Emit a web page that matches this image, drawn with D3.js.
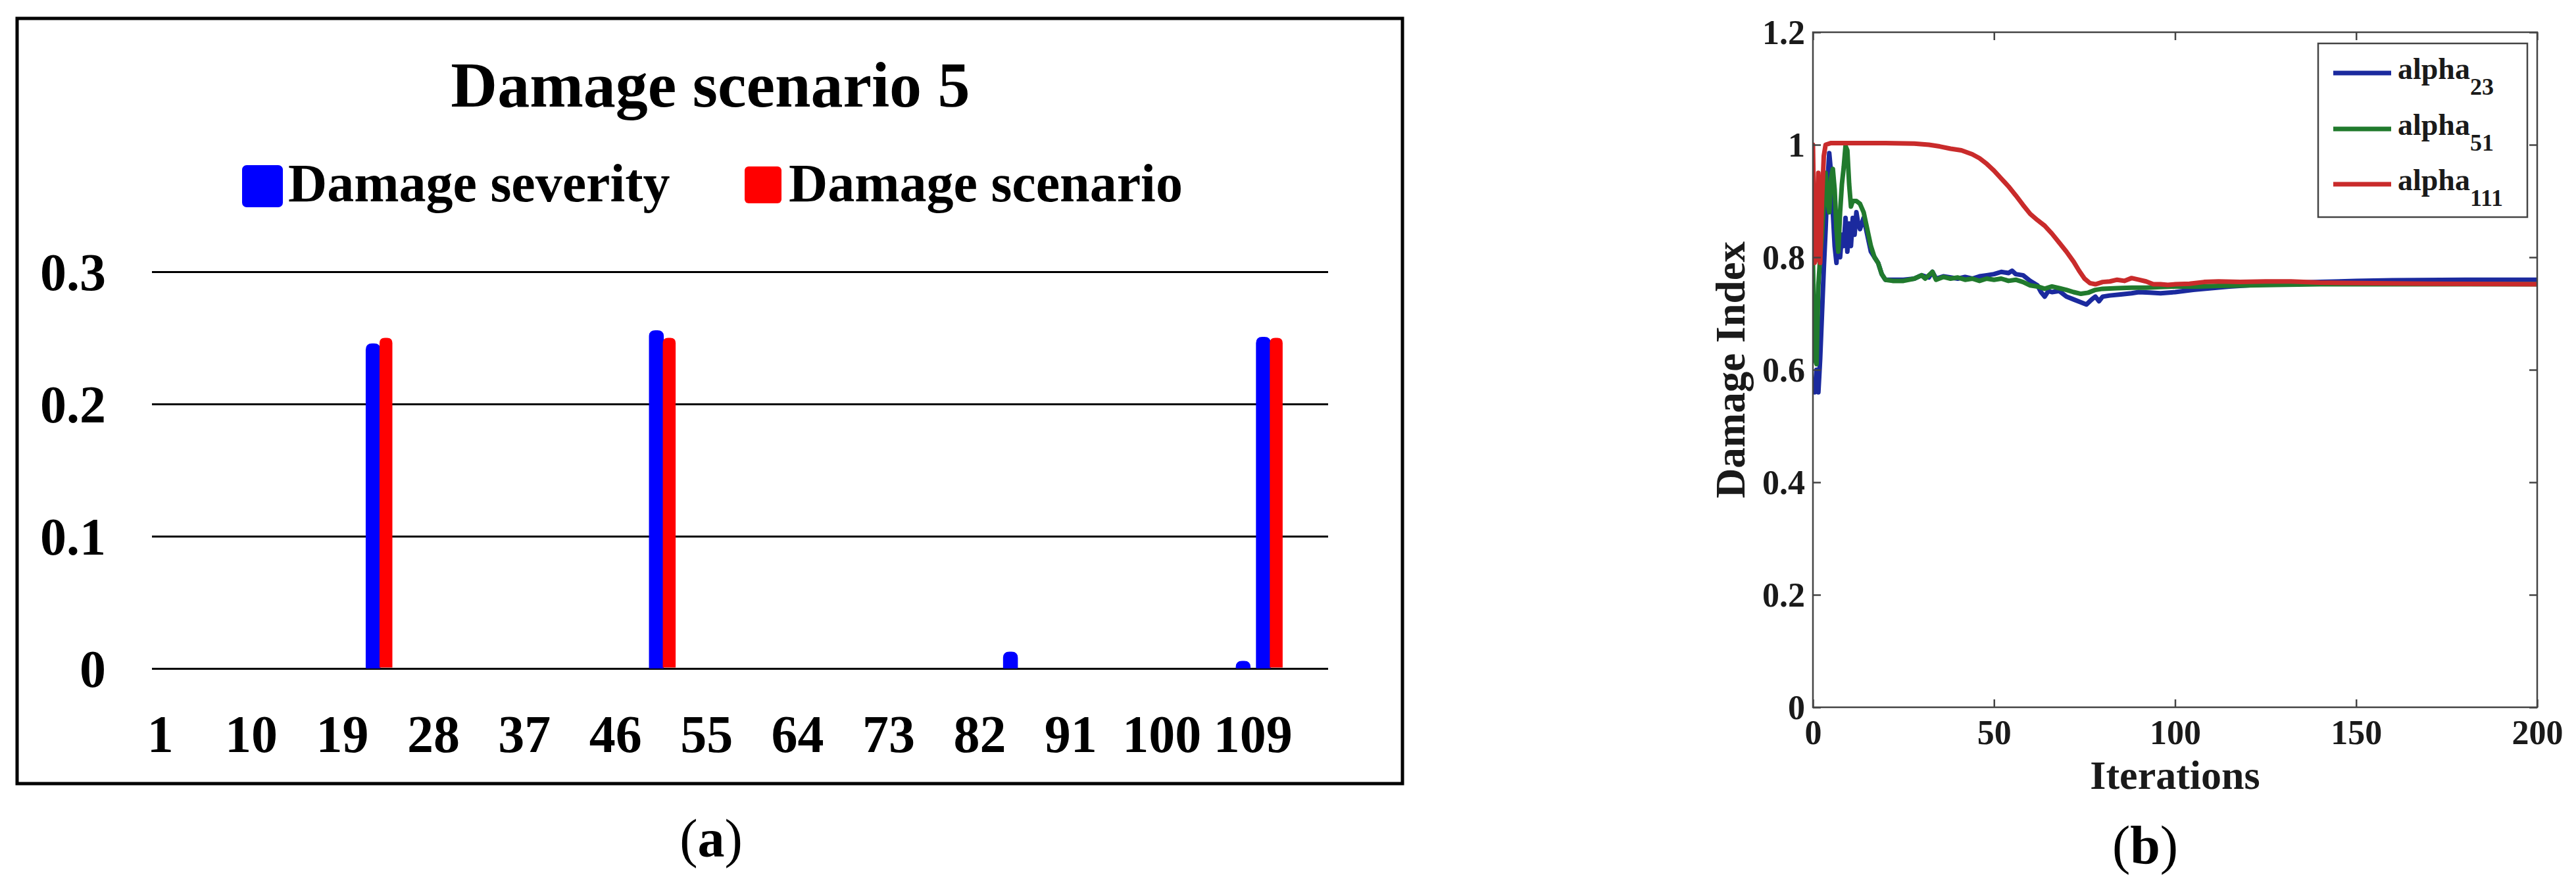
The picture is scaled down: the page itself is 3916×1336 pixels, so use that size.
<!DOCTYPE html>
<html>
<head>
<meta charset="utf-8">
<script src="https://cdn.jsdelivr.net/npm/d3@7"></script>
<style>
html,body{margin:0;padding:0;background:#fff;}
svg{display:block;}
</style>
</head>
<body>
<script>
// ---------------- DATA ----------------
// Panel (a): Damage scenario 5
const elementCount = 116;
const elements = d3.range(1, elementCount + 1);
const xTickLabels = [1, 10, 19, 28, 37, 46, 55, 64, 73, 82, 91, 100, 109];
const yTicksA = [0, 0.1, 0.2, 0.3];
const severity = [[23, 0.245], [51, 0.255], [86, 0.012], [109, 0.005], [111, 0.25]];
const scenario = [[23, 0.25], [51, 0.25], [111, 0.25]];
const legendA = ["Damage severity", "Damage scenario"];

// Panel (b): Damage index vs iterations
const xTicksB = [0, 50, 100, 150, 200];
const yTicksB = [0, 0.2, 0.4, 0.6, 0.8, 1, 1.2];
const alpha23 = [[0,0.58],[0.5,0.56],[1,0.6],[1.5,0.56],[2,0.62],[2.5,0.7],[3,0.78],[3.5,0.85],[4,0.93],[4.5,0.985],[5,0.95],[5.5,0.88],[6,0.82],[6.5,0.79],[7,0.86],[7.5,0.8],[8,0.84],[8.5,0.82],[9,0.87],[9.5,0.81],[10,0.86],[10.5,0.82],[11,0.87],[11.5,0.84],[12,0.88],[12.5,0.86],[13,0.85],[14,0.87],[15,0.84],[16,0.81],[17,0.8],[18,0.79],[19,0.77],[20,0.76],[22,0.76],[25,0.76],[28,0.762],[30,0.768],[32,0.764],[33,0.774],[34,0.762],[36,0.766],[38,0.764],[40,0.762],[42,0.765],[44,0.762],[46,0.766],[48,0.768],[50,0.77],[52,0.774],[54,0.772],[55,0.776],[56,0.77],[58,0.768],[60,0.758],[62,0.75],[63,0.738],[64,0.73],[65,0.74],[66,0.738],[68,0.74],[70,0.73],[72,0.725],[74,0.72],[75.5,0.716],[77,0.725],[78,0.73],[79,0.722],[80,0.73],[82,0.732],[85,0.734],[88,0.736],[90,0.738],[93,0.737],[96,0.736],[100,0.738],[105,0.742],[110,0.745],[115,0.748],[120,0.75],[125,0.752],[130,0.754],[140,0.756],[150,0.758],[160,0.759],[180,0.76],[200,0.76]];
const alpha51 = [[0,0.79],[0.5,0.62],[1,0.61],[1.5,0.75],[2,0.8],[2.5,0.84],[3,0.9],[3.5,0.95],[4,0.9],[4.5,0.88],[5,0.94],[5.5,0.957],[6,0.92],[6.5,0.85],[7,0.81],[7.5,0.88],[8,0.93],[8.5,0.96],[9,0.998],[9.5,0.99],[10,0.93],[10.5,0.89],[11,0.9],[12,0.9],[13,0.895],[14,0.88],[15,0.85],[16,0.82],[17,0.8],[18,0.79],[19,0.77],[20,0.76],[22,0.758],[25,0.758],[28,0.762],[30,0.768],[31,0.762],[33,0.774],[34,0.76],[36,0.765],[38,0.762],[40,0.764],[42,0.76],[44,0.762],[46,0.758],[48,0.762],[50,0.76],[52,0.762],[54,0.758],[56,0.76],[58,0.756],[60,0.75],[62,0.748],[64,0.744],[66,0.748],[68,0.745],[70,0.742],[72,0.738],[74,0.735],[76,0.737],[78,0.742],[80,0.744],[84,0.745],[88,0.746],[92,0.746],[96,0.747],[100,0.748],[106,0.748],[112,0.749],[120,0.75],[128,0.751],[140,0.752],[160,0.752],[200,0.752]];
const alpha111 = [[0,1.0],[0.5,0.79],[1,0.8],[1.5,0.95],[2,0.79],[2.5,0.9],[3,0.98],[3.5,1.0],[5,1.003],[10,1.003],[20,1.003],[28,1.002],[32,1.0],[35,0.997],[38,0.993],[41,0.99],[44,0.983],[46,0.976],[48,0.966],[50,0.954],[52,0.94],[54,0.926],[56,0.91],[58,0.893],[60,0.877],[62,0.866],[64,0.856],[66,0.842],[68,0.826],[70,0.81],[72,0.792],[73.5,0.776],[75,0.762],[76.5,0.754],[78,0.752],[80,0.756],[82,0.757],[84,0.76],[86,0.758],[88,0.763],[90,0.76],[92,0.757],[94,0.752],[96,0.752],[98,0.751],[100,0.752],[104,0.753],[108,0.756],[112,0.757],[118,0.756],[125,0.757],[132,0.757],[140,0.755],[150,0.754],[170,0.753],[200,0.752]];
const seriesNamesB = ["alpha", "alpha", "alpha"];
const seriesSubsB = ["23", "51", "111"];

// ---------------- DRAWING ----------------
const W = 3916, H = 1336;
const FONT = "'Liberation Serif','Times New Roman',Times,serif";
const svg = d3.select("body").append("svg").attr("width", W).attr("height", H)
  .style("font-family", FONT);
svg.append("rect").attr("width", W).attr("height", H).attr("fill", "#fff");

// ===== Panel (a) =====
const gA = svg.append("g");
gA.append("rect").attr("x", 26).attr("y", 28).attr("width", 2106).attr("height", 1163)
  .attr("fill", "none").attr("stroke", "#000").attr("stroke-width", 5);

const xA = d3.scaleBand().domain(elements).range([236, 2020]).padding(0);
const yA = d3.scaleLinear().domain([0, 0.3]).range([1016, 413]);

// gridlines + y labels
const yAxisA = gA.append("g").attr("transform", "translate(231,0)")
  .call(d3.axisLeft(yA).tickValues(yTicksA).tickSize(-(2019 - 231)).tickPadding(70)
    .tickFormat(d => d === 0 ? "0" : d.toFixed(1)));
yAxisA.select(".domain").remove();
yAxisA.selectAll(".tick line").attr("stroke", "#000").attr("stroke-width", 3.2);
yAxisA.selectAll(".tick text").attr("font-size", 80).attr("font-weight", "bold")
  .attr("font-family", FONT).attr("fill", "#000").attr("dy", "0.34em");

// x labels
const xAxisA = gA.append("g").attr("transform", "translate(0,1016)")
  .call(d3.axisBottom(xA).tickValues(xTickLabels).tickSize(0).tickPadding(70));
xAxisA.select(".domain").remove();
xAxisA.selectAll(".tick text").attr("font-size", 80).attr("font-weight", "bold")
  .attr("font-family", FONT).attr("fill", "#000");

function barPath(x0, w, yTop, yBase, r) {
  r = Math.max(0, Math.min(r, w / 2, yBase - yTop));
  return `M${x0},${yBase}V${yTop + r}Q${x0},${yTop} ${x0 + r},${yTop}H${x0 + w - r}Q${x0 + w},${yTop} ${x0 + w},${yTop + r}V${yBase}Z`;
}
const step = xA.step();
const barW = 1.27 * step;
const groupOffset = -0.33 * step;
const center = e => xA(e) + xA.bandwidth() / 2;

gA.append("g").selectAll("path").data(severity).join("path")
  .attr("d", d => barPath(center(d[0]) + groupOffset - barW, barW, yA(d[1]), yA(0) - 1.5, 8))
  .attr("fill", "#0000ff").attr("stroke", "#0000ff").attr("stroke-width", 3).attr("stroke-linejoin", "round");
gA.append("g").selectAll("path").data(scenario).join("path")
  .attr("d", d => barPath(center(d[0]) + groupOffset, barW, yA(d[1]), yA(0) - 1.5, 8))
  .attr("fill", "#ff0000");

// title
gA.append("text").attr("x", 1080).attr("y", 162).attr("text-anchor", "middle")
  .attr("font-size", 98).attr("font-weight", "bold").attr("fill", "#000").text("Damage scenario 5");

// legend
const legA = gA.append("g");
legA.append("rect").attr("x", 368).attr("y", 251).attr("width", 62).attr("height", 64).attr("rx", 7).attr("fill", "#0000ff");
legA.append("text").attr("x", 438).attr("y", 306).attr("font-size", 82).attr("font-weight", "bold").text(legendA[0]);
legA.append("rect").attr("x", 1132).attr("y", 253).attr("width", 56).attr("height", 56).attr("rx", 6).attr("fill", "#ff0000");
legA.append("text").attr("x", 1199).attr("y", 306).attr("font-size", 82).attr("font-weight", "bold").text(legendA[1]);

// (a)
const labA = svg.append("text").attr("x", 1081).attr("y", 1302).attr("text-anchor", "middle").attr("font-size", 82);
labA.append("tspan").text("(");
labA.append("tspan").attr("font-weight", "bold").text("a");
labA.append("tspan").text(")");

// ===== Panel (b) =====
const gB = svg.append("g");
const L = 2756, R = 3857, T = 49, B = 1075;
const xB = d3.scaleLinear().domain([0, 200]).range([L, R]);
const yB = d3.scaleLinear().domain([0, 1.2]).range([B, T]);
const axisCol = "#444";

const clip = svg.append("defs").append("clipPath").attr("id", "plotB");
clip.append("rect").attr("x", L).attr("y", T - 5).attr("width", R - L).attr("height", B - T + 5);

const lineGen = d3.line().x(d => xB(d[0])).y(d => yB(d[1]));
const seriesB = [
  { data: alpha23, color: "#1b2a9e" },
  { data: alpha51, color: "#217a2d" },
  { data: alpha111, color: "#c92b2b" }
];
gB.append("g").attr("clip-path", "url(#plotB)").selectAll("path").data(seriesB).join("path")
  .attr("d", d => lineGen(d.data)).attr("fill", "none").attr("stroke", d => d.color)
  .attr("stroke-width", 7).attr("stroke-linejoin", "round").attr("stroke-linecap", "round");

function styleAxis(g, labels) {
  g.select(".domain").remove();
  g.selectAll(".tick line").attr("stroke", axisCol).attr("stroke-width", 2.5);
  if (labels) {
    g.selectAll(".tick text").attr("font-size", 52).attr("font-weight", "bold")
      .attr("font-family", FONT).attr("fill", "#1a1a1a");
  } else {
    g.selectAll(".tick text").remove();
  }
}
gB.append("g").attr("transform", `translate(0,${B})`)
  .call(d3.axisBottom(xB).tickValues(xTicksB).tickSizeInner(-12).tickSizeOuter(0).tickPadding(19).tickFormat(d3.format("d")))
  .call(g => styleAxis(g, true));
gB.append("g").attr("transform", `translate(0,${T})`)
  .call(d3.axisTop(xB).tickValues(xTicksB).tickSizeInner(-12).tickSizeOuter(0))
  .call(g => styleAxis(g, false));
gB.append("g").attr("transform", `translate(${L},0)`)
  .call(d3.axisLeft(yB).tickValues(yTicksB).tickSizeInner(-12).tickSizeOuter(0).tickPadding(12)
    .tickFormat(d => d === 0 || d === 1 ? String(d) : d.toFixed(1)))
  .call(g => styleAxis(g, true))
  .call(g => g.selectAll(".tick text").attr("dy", "0.33em"));
gB.append("g").attr("transform", `translate(${R},0)`)
  .call(d3.axisRight(yB).tickValues(yTicksB).tickSizeInner(-12).tickSizeOuter(0))
  .call(g => styleAxis(g, false));

gB.append("rect").attr("x", L).attr("y", T).attr("width", R - L).attr("height", B - T)
  .attr("fill", "none").attr("stroke", axisCol).attr("stroke-width", 2.5);

// axis titles
gB.append("text").attr("x", (L + R) / 2).attr("y", 1199).attr("text-anchor", "middle")
  .attr("font-size", 62).attr("font-weight", "bold").attr("fill", "#1a1a1a").text("Iterations");
gB.append("text").attr("transform", `translate(2652,${(T + B) / 2}) rotate(-90)`).attr("text-anchor", "middle")
  .attr("font-size", 63).attr("font-weight", "bold").attr("fill", "#1a1a1a").text("Damage Index");

// legend
const legB = gB.append("g");
legB.append("rect").attr("x", 3524).attr("y", 66).attr("width", 318).attr("height", 264)
  .attr("fill", "#fff").attr("stroke", axisCol).attr("stroke-width", 2.5);
const legRows = [111, 196, 280];
seriesB.forEach((s, i) => {
  legB.append("line").attr("x1", 3547).attr("x2", 3635).attr("y1", legRows[i]).attr("y2", legRows[i])
    .attr("stroke", s.color).attr("stroke-width", 7);
  const t = legB.append("text").attr("x", 3645).attr("y", legRows[i] + 9)
    .attr("font-size", 46).attr("font-weight", "bold").attr("fill", "#1a1a1a");
  t.append("tspan").text(seriesNamesB[i]);
  t.append("tspan").attr("font-size", 36).attr("dy", 24).text(seriesSubsB[i]);
});

// (b)
const labB = svg.append("text").attr("x", 3261).attr("y", 1312).attr("text-anchor", "middle").attr("font-size", 82);
labB.append("tspan").text("(");
labB.append("tspan").attr("font-weight", "bold").text("b");
labB.append("tspan").text(")");
</script>
</body>
</html>
